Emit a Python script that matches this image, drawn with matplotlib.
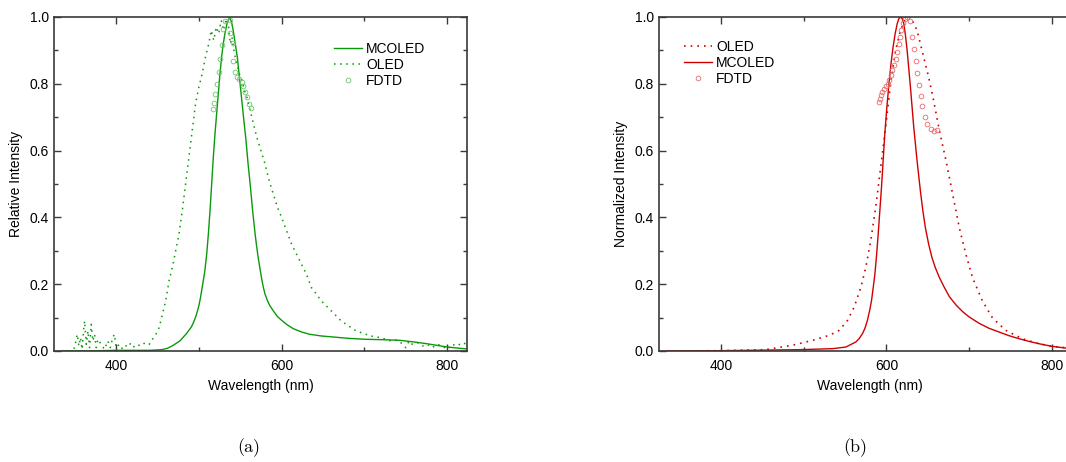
import numpy as np
import matplotlib.pyplot as plt
from matplotlib.ticker import MultipleLocator, FormatStrFormatter

plt.rcParams['font.family'] = ['Liberation Sans', 'DejaVu Sans']
plt.rcParams['font.size'] = 10

# --- panel (a): green device ---
mc_a_wl = [335, 360, 400, 440, 455, 462, 469, 477, 485, 491, 494, 497, 500, 502, 504, 507,
           509.5, 511.5, 513.5, 515.5, 517.5, 519.5, 521.5, 523.5, 525.5, 527.5, 529.5,
           531.5, 534, 537, 539.5, 541.5, 544, 546.5, 549, 551.5, 554, 557, 559.5, 562, 565,
           568, 570, 572, 574, 576, 578, 580, 583, 586, 590, 595, 600, 607, 614, 624, 634,
           648, 662, 680, 702, 720, 743, 760, 775, 790, 800, 812, 824]
mc_a_int = [0.0, 0.0, 0.002, 0.002, 0.004, 0.008, 0.017, 0.03, 0.052, 0.072, 0.088, 0.108,
            0.135, 0.16, 0.19, 0.235, 0.29, 0.35, 0.42, 0.50, 0.58, 0.65, 0.71, 0.77, 0.83,
            0.88, 0.92, 0.95, 0.98, 1.0, 0.985, 0.96, 0.92, 0.88, 0.82, 0.76, 0.70, 0.63,
            0.56, 0.50, 0.42, 0.35, 0.31, 0.275, 0.245, 0.215, 0.19, 0.17, 0.15, 0.135, 0.12,
            0.103, 0.092, 0.078, 0.067, 0.057, 0.05, 0.045, 0.042, 0.038, 0.035, 0.034,
            0.032, 0.027, 0.022, 0.016, 0.012, 0.009, 0.006]

oled_a_wl = [335, 340, 345, 350, 353, 355, 357, 359, 361, 362, 364, 366, 368, 370, 372, 374,
             376, 378, 382, 386, 390, 393, 396, 398, 400, 404, 408, 412, 416, 420, 425, 430,
             435, 440, 444, 448, 452, 456, 460, 464, 468, 472, 476, 480, 484, 488, 492, 496,
             500, 504, 508, 512, 515, 518, 521, 524, 527, 530, 533, 536, 538, 540, 543, 546,
             549, 552, 555, 558, 562, 566, 570, 575, 580, 585, 590, 595, 600, 606, 612, 618,
             624, 630, 636, 642, 648, 654, 660, 666, 672, 678, 684, 690, 696, 702, 708, 714,
             720, 726, 732, 738, 744, 750, 754, 758, 764, 770, 776, 782, 788, 794, 800, 806,
             812, 818, 824]
oled_a_int = [0.0, 0.002, 0.0, 0.01, 0.05, 0.015, 0.04, 0.005, 0.07, 0.09, 0.02, 0.06, 0.01,
              0.08, 0.03, 0.05, 0.01, 0.035, 0.02, 0.005, 0.03, 0.01, 0.04, 0.05, 0.01, 0.02,
              0.005, 0.015, 0.025, 0.01, 0.02, 0.015, 0.025, 0.02, 0.035, 0.05, 0.07, 0.11,
              0.15, 0.21, 0.25, 0.30, 0.35, 0.42, 0.50, 0.58, 0.66, 0.74, 0.79, 0.83, 0.88,
              0.92, 0.96, 0.93, 0.97, 0.95, 0.99, 0.96, 0.995, 0.97, 0.92, 0.94, 0.89, 0.86,
              0.83, 0.81, 0.78, 0.76, 0.72, 0.68, 0.64, 0.60, 0.56, 0.51, 0.47, 0.43, 0.40,
              0.36, 0.32, 0.29, 0.26, 0.23, 0.19, 0.17, 0.15, 0.135, 0.12, 0.105, 0.09, 0.08,
              0.07, 0.06, 0.055, 0.05, 0.045, 0.042, 0.04, 0.035, 0.03, 0.033, 0.025, 0.01,
              0.03, 0.02, 0.025, 0.015, 0.02, 0.01, 0.02, 0.015, 0.005, 0.02, 0.015, 0.025, 0.02]

fdtd_a_wl = [516.8, 518.3, 519.9, 521.6, 524.0, 525.6, 528.0, 528.8, 531.6, 537.6, 537.6,
             540.8, 541.5, 543.7, 545.7, 548.8, 551.7, 553.7, 555.7, 558.5, 560.9, 562.6]
fdtd_a_int = [0.726, 0.743, 0.768, 0.799, 0.835, 0.875, 0.917, 0.965, 0.988, 0.990, 0.952,
              0.922, 0.867, 0.835, 0.820, 0.813, 0.805, 0.793, 0.775, 0.760, 0.741, 0.729]

# --- panel (b): red device ---
oled_b_wl = [335, 400, 454, 486, 511, 531, 543, 553, 561, 569, 575, 581, 587, 593, 599, 605,
             611, 617, 623, 629, 637, 645, 651, 657, 664, 672, 680, 688, 696, 704, 716, 728,
             744, 764, 784, 800, 816, 834]
oled_b_int = [0.0, 0.001, 0.004, 0.017, 0.032, 0.047, 0.062, 0.092, 0.132, 0.19, 0.25, 0.33,
              0.43, 0.55, 0.67, 0.80, 0.90, 0.96, 0.995, 1.0, 0.96, 0.88, 0.82, 0.75, 0.66,
              0.57, 0.47, 0.37, 0.29, 0.22, 0.15, 0.10, 0.062, 0.037, 0.022, 0.014, 0.01, 0.007]

mc_b_wl = [335, 400, 495, 535, 551, 563, 567, 571, 574, 577, 580, 582, 584, 586, 588, 590,
           592, 594, 596, 598, 600.5, 603, 605.5, 608, 610.5, 613, 615, 617, 619, 621, 623,
           625, 627, 629, 631, 633, 635, 637, 639, 641, 644, 647, 651, 655, 659, 664, 669,
           676, 684, 692, 700, 712, 724, 736, 748, 760, 772, 784, 800, 816, 834]
mc_b_int = [0.0, 0.001, 0.004, 0.007, 0.012, 0.027, 0.037, 0.052, 0.068, 0.092, 0.125,
            0.152, 0.19, 0.23, 0.285, 0.35, 0.42, 0.49, 0.57, 0.65, 0.73, 0.80, 0.86, 0.91,
            0.95, 0.98, 0.995, 1.0, 0.995, 0.98, 0.945, 0.90, 0.845, 0.79, 0.73, 0.67, 0.62,
            0.57, 0.525, 0.48, 0.42, 0.37, 0.32, 0.28, 0.25, 0.22, 0.195, 0.163, 0.138,
            0.118, 0.102, 0.083, 0.068, 0.057, 0.046, 0.037, 0.029, 0.022, 0.014, 0.009, 0.006]

fdtd_b_wl = [590.4, 592.0, 593.6, 595.2, 597.2, 599.2, 601.7, 603.3, 605.3, 607.3, 609.3,
             611.3, 613.3, 615.3, 616.5, 618.1, 620.2, 622.6, 625.4, 628.3, 630.7, 633.4,
             635.5, 637.4, 639.5, 641.5, 643.5, 646.7, 649.5, 653.6, 657.6, 661.6]
fdtd_b_int = [0.746, 0.755, 0.765, 0.775, 0.785, 0.792, 0.80, 0.81, 0.825, 0.84, 0.855,
              0.875, 0.895, 0.92, 0.94, 0.962, 0.982, 0.995, 1.0, 0.988, 0.940, 0.905,
              0.868, 0.832, 0.796, 0.763, 0.733, 0.701, 0.681, 0.666, 0.659, 0.661]

green = '#0a990a'
green_light = '#6cc46c'
red = '#d00000'
red_light = '#e66a6a'
spine_col = '#3a3a3a'

fig = plt.figure(figsize=(10.66, 4.62), dpi=100)
ax_a = fig.add_axes([54 / 1066, 111 / 462, 413 / 1066, 334 / 462])
# panel (b) runs past the right edge of the page, as in the source figure
ax_b = fig.add_axes([659 / 1066, 111 / 462, 421 / 1066, 334 / 462])


def style_axes(ax, ylabel, xmax):
    ax.set_xlim(325, xmax)
    ax.set_ylim(0, 1.0)
    ax.xaxis.set_major_locator(MultipleLocator(200))
    ax.xaxis.set_minor_locator(MultipleLocator(100))
    ax.yaxis.set_major_locator(MultipleLocator(0.2))
    ax.yaxis.set_minor_locator(MultipleLocator(0.1))
    ax.yaxis.set_major_formatter(FormatStrFormatter('%.1f'))
    ax.tick_params(which='both', direction='in', top=True, right=True,
                   color=spine_col, width=1.0)
    ax.tick_params(which='major', length=5)
    ax.tick_params(which='minor', length=3)
    ax.tick_params(axis='x', pad=6)
    for sp in ax.spines.values():
        sp.set_color(spine_col)
        sp.set_linewidth(1.2)
    ax.set_xlabel('Wavelength (nm)', labelpad=4)
    ax.set_ylabel(ylabel, labelpad=5)


# (a)
ax_a.plot(mc_a_wl, mc_a_int, color=green, lw=1.0, label='MCOLED')
ax_a.plot(oled_a_wl, oled_a_int, color=green, lw=1.1, ls=(0, (1, 3)), label='OLED')
ax_a.plot(fdtd_a_wl, fdtd_a_int, ls='none', marker='o', ms=3.4, mfc='none',
          mec=green_light, mew=0.6, label='FDTD')
style_axes(ax_a, 'Relative Intensity', 824)
ax_a.legend(loc='upper left', bbox_to_anchor=(0.678, 0.925), frameon=False,
            handlelength=2.0, handletextpad=0.3, labelspacing=0.15,
            borderpad=0, borderaxespad=0, fontsize=10)

# (b)
ax_b.plot(oled_b_wl, oled_b_int, color=red, lw=1.2, ls=(0, (1, 3)), label='OLED')
ax_b.plot(mc_b_wl, mc_b_int, color=red, lw=1.0, label='MCOLED')
ax_b.plot(fdtd_b_wl, fdtd_b_int, ls='none', marker='o', ms=3.4, mfc='none',
          mec=red_light, mew=0.6, label='FDTD')
style_axes(ax_b, 'Normalized Intensity', 834)
ax_b.legend(loc='upper left', bbox_to_anchor=(0.06, 0.932), frameon=False,
            handlelength=2.0, handletextpad=0.3, labelspacing=0.15,
            borderpad=0, borderaxespad=0, fontsize=10)

fig.text(249 / 1066, 1 - 448 / 462, '(a)', family='cmr10', fontsize=13,
         ha='center', va='center')
fig.text(855 / 1066, 1 - 448 / 462, '(b)', family='cmr10', fontsize=13,
         ha='center', va='center')

fig.savefig('out.png', dpi=100)
